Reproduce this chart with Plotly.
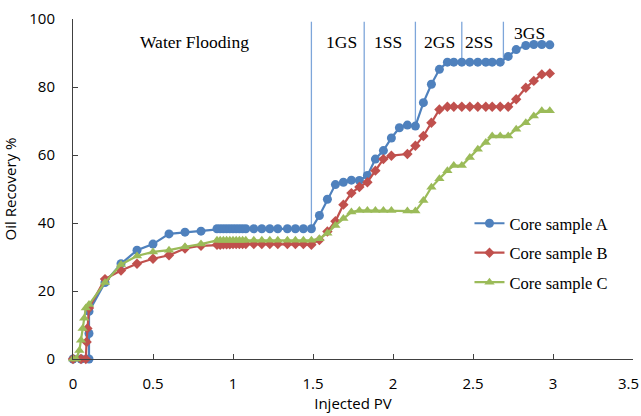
import plotly.graph_objects as go

# ---------------- data ----------------
a_x = [0, 0.05, 0.1, 0.1, 0.1, 0.2, 0.3, 0.4, 0.5, 0.6, 0.7, 0.8,
       0.9, 0.92, 0.94, 0.96, 0.98, 1.0, 1.02, 1.04, 1.06, 1.08,
       1.13, 1.18, 1.23, 1.28, 1.34, 1.39, 1.44, 1.49,
       1.54, 1.59, 1.64, 1.69, 1.74, 1.79, 1.84, 1.89, 1.94, 1.99, 2.04, 2.09, 2.14,
       2.19, 2.24, 2.29, 2.34, 2.38, 2.43, 2.48, 2.53, 2.58, 2.62, 2.67,
       2.72, 2.77, 2.83, 2.88, 2.93, 2.98]
a_y = [0, 0, 0, 7.5, 14, 22.5, 28, 32, 33.8, 36.8, 37.3, 37.6,
       38.3, 38.3, 38.3, 38.3, 38.3, 38.3, 38.3, 38.3, 38.3, 38.3,
       38.3, 38.3, 38.3, 38.3, 38.3, 38.3, 38.3, 38.3,
       42.2, 47, 51.3, 52, 52.6, 52.5, 54, 58.8, 61.3, 65, 68, 68.8, 68.5,
       75.4, 80.8, 85.2, 87.3, 87.3, 87.3, 87.3, 87.3, 87.3, 87.3, 87.3,
       89, 91, 92.2, 92.5, 92.5, 92.4]

b_x = [0, 0.05, 0.08, 0.085, 0.09, 0.1, 0.2, 0.3, 0.4, 0.5, 0.6, 0.7, 0.8,
       0.9, 0.92, 0.94, 0.96, 0.98, 1.0, 1.02, 1.04, 1.06, 1.08,
       1.13, 1.18, 1.23, 1.28, 1.34, 1.39, 1.44, 1.49,
       1.54, 1.59, 1.64, 1.69, 1.74, 1.79, 1.84, 1.89, 1.94, 1.99, 2.09, 2.14,
       2.19, 2.24, 2.29, 2.34, 2.38, 2.43, 2.48, 2.53, 2.58, 2.62, 2.67, 2.72,
       2.77, 2.83, 2.88, 2.93, 2.98]
b_y = [0, 0, 0, 5, 9, 15, 23.5, 26, 28, 29.5, 30.5, 32.5, 33.3,
       33.6, 33.6, 33.7, 33.7, 33.7, 33.8, 33.8, 33.8, 33.8, 33.8,
       33.8, 33.8, 33.8, 33.8, 33.8, 33.8, 33.8, 33.6,
       35, 37.5, 40.5, 45.4, 48.8, 50.6, 52, 55.4, 58.8, 59.8, 60.3, 62.7,
       65.6, 69.5, 73.4, 74.2, 74.2, 74.2, 74.2, 74.2, 74.2, 74.2, 74.2, 74.2,
       76.4, 79.8, 81.8, 83.7, 84]

c_x = [0, 0.02, 0.04, 0.05, 0.06, 0.07, 0.08, 0.1, 0.2, 0.3, 0.4, 0.5, 0.6, 0.7, 0.8,
       0.9, 0.92, 0.94, 0.96, 0.98, 1.0, 1.02, 1.04, 1.06, 1.08,
       1.13, 1.18, 1.23, 1.28, 1.34, 1.39, 1.44, 1.49,
       1.54, 1.59, 1.64, 1.69, 1.74, 1.79, 1.84, 1.89, 1.94, 1.99, 2.09, 2.14,
       2.19, 2.24, 2.29, 2.34, 2.38, 2.43, 2.48, 2.53, 2.58, 2.62, 2.67, 2.72,
       2.77, 2.83, 2.88, 2.93, 2.98]
c_y = [0, 0, 2.5, 5.5, 9, 12, 15, 16, 22.5, 27.8, 30.3, 31.5, 32, 33, 33.8,
       34.9, 34.9, 34.9, 34.9, 34.9, 34.9, 34.9, 34.9, 34.9, 34.9,
       34.9, 34.9, 34.9, 34.9, 34.9, 34.9, 34.9, 34.9,
       35.4, 37, 39.3, 41.3, 43.2, 43.7, 43.7, 43.7, 43.7, 43.7, 43.5, 43.5,
       46.6, 50.5, 53, 55.4, 56.9, 56.9, 59.3, 61.7, 63.7, 65.6, 65.6, 65.6,
       67.6, 69.5, 71.5, 73, 73]

series_names = ["Core sample A", "Core sample B", "Core sample C"]

stage_x = [1.49, 1.82, 2.14, 2.43, 2.69]
stage_bottom = [38.3, 53, 68.5, 87.3, 87.3]
stage_top = 99.2

stage_labels = ["Water Flooding", "1GS", "1SS", "2GS", "2SS", "3GS"]
stage_label_x = [0.76, 1.68, 1.97, 2.29, 2.54, 2.855]
stage_label_y = [93.2, 93.2, 93.2, 93.2, 93.2, 96]

x_ticks = [0, 0.5, 1, 1.5, 2, 2.5, 3, 3.5]
x_tick_text = ["0", "0.5", "1", "1.5", "2", "2.5", "3", ""]
last_x_label = "3.5"
y_ticks = [0, 20, 40, 60, 80, 100]

# ---------------- figure ----------------
BLUE = "#4F81BD"
RED = "#C0504D"
GREEN = "#9BBB59"
SERIF = "Liberation Serif"
SANS = "Open Sans"

fig = go.Figure()

# stage boundary lines
for sx, sb in zip(stage_x, stage_bottom):
    fig.add_trace(go.Scatter(x=[sx, sx], y=[sb, stage_top], mode="lines",
                             line=dict(color="#7EA6DA", width=1.3),
                             showlegend=False, hoverinfo="skip"))

fig.add_trace(go.Scatter(x=a_x, y=a_y, name=series_names[0], mode="lines+markers",
                         line=dict(color=BLUE, width=2.2),
                         marker=dict(symbol="circle", size=9, color=BLUE),
                         legendgroup="a", cliponaxis=False))
fig.add_trace(go.Scatter(x=b_x, y=b_y, name=series_names[1], mode="lines+markers",
                         line=dict(color=RED, width=2.2),
                         marker=dict(symbol="diamond", size=8, color=RED),
                         legendgroup="b", cliponaxis=False))
fig.add_trace(go.Scatter(x=c_x, y=c_y, name=series_names[2], mode="lines+markers",
                         line=dict(color=GREEN, width=2.2),
                         marker=dict(symbol="triangle-up", size=9, color=GREEN),
                         legendgroup="c", cliponaxis=False))

for t, lx, ly in zip(stage_labels, stage_label_x, stage_label_y):
    fig.add_annotation(x=lx, y=ly, text=t, showarrow=False,
                       font=dict(family=SERIF, size=17.5, color="#000000"),
                       xanchor="center", yanchor="middle")

# last x tick label, kept inside the page edge
fig.add_annotation(x=1, xref="paper", y=0, yref="paper", text=last_x_label,
                   showarrow=False, xanchor="right", yanchor="top",
                   xshift=8, yshift=-12,
                   font=dict(family=SANS, size=15, color="#000000"))

fig.update_layout(
    width=641, height=416,
    margin=dict(l=73, r=8, t=18, b=55),
    paper_bgcolor="white", plot_bgcolor="white",
    showlegend=True,
    legend=dict(x=0.708, y=0.45, xanchor="left", yanchor="top",
                font=dict(family=SERIF, size=16.5, color="#000000"),
                traceorder="grouped", tracegroupgap=5,
                bgcolor="rgba(0,0,0,0)"),
    font=dict(family=SANS, size=15, color="#000000"),
)

fig.update_xaxes(range=[0, 3.5], tickvals=x_ticks, ticktext=x_tick_text,
                 showline=True, linecolor="#404040", linewidth=1,
                 ticks="inside", ticklen=5, tickcolor="#404040",
                 showgrid=False, zeroline=False,
                 tickfont=dict(family=SANS, size=15),
                 ticklabelstandoff=11,
                 title=dict(text="Injected PV", font=dict(family=SANS, size=15), standoff=4))
fig.update_yaxes(range=[0, 100], tickvals=y_ticks,
                 showline=True, linecolor="#404040", linewidth=1,
                 ticks="inside", ticklen=5, tickcolor="#404040",
                 showgrid=False, zeroline=False,
                 tickfont=dict(family=SANS, size=15),
                 ticklabelstandoff=14,
                 title=dict(text="Oil Recovery %", font=dict(family=SANS, size=15), standoff=10))

fig.write_html("out.html", config={"displayModeBar": False},
               post_script="document.body.style.margin='0';")
